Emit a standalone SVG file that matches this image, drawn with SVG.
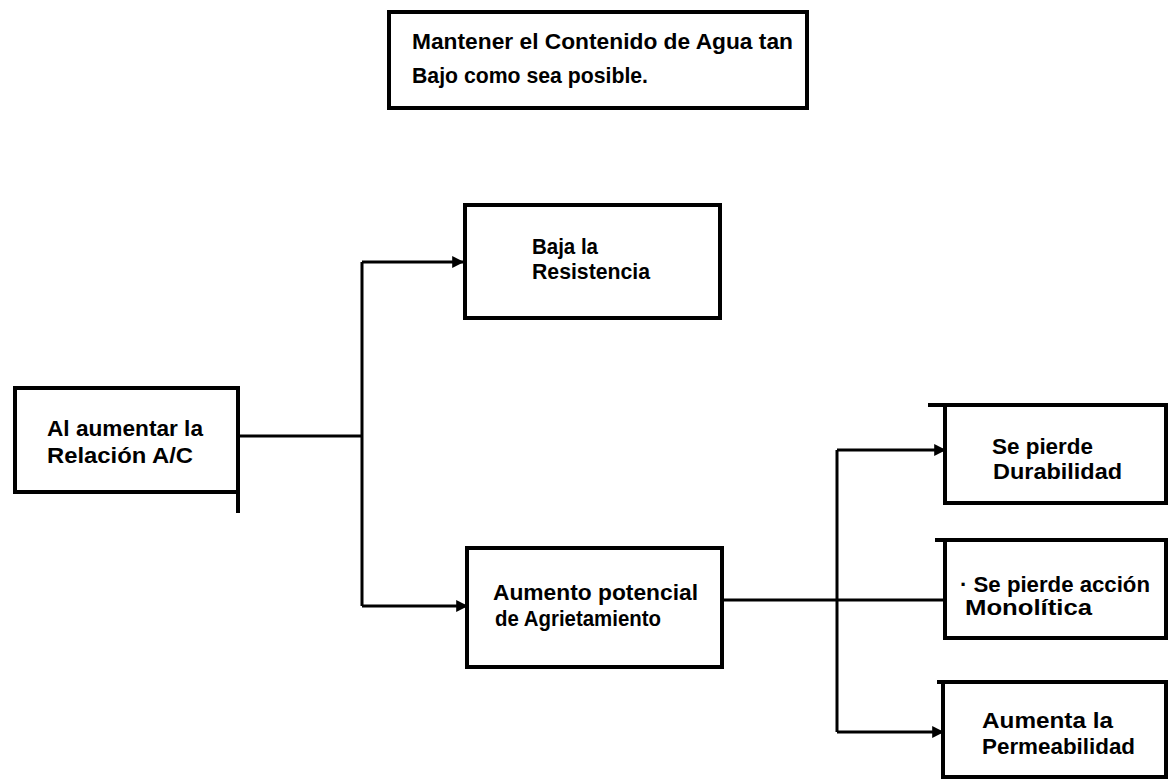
<svg xmlns="http://www.w3.org/2000/svg" width="1169" height="782" viewBox="0 0 1169 782">
  <style>
    .box { fill: none; stroke: #000; stroke-width: 4; }
    .wire { fill: none; stroke: #000; stroke-width: 3; }
    .lbl { font-family: "Liberation Sans", Arial, sans-serif; font-weight: bold; font-size: 22px; fill: #000; }
  </style>
  <defs>
    <marker id="arr" viewBox="0 0 10 10" refX="9" refY="5" markerWidth="4" markerHeight="4" orient="auto" markerUnits="strokeWidth">
      <path d="M0,0 L10,5 L0,10 Z" fill="#000"/>
    </marker>
  </defs>
  <rect width="1169" height="782" fill="#fff"/>

  <!-- connectors -->
  <g id="connectors">
    <path class="wire" d="M238,436 H362"/>
    <path class="wire" d="M362,262 V606"/>
    <path class="wire" d="M362,262 H463" marker-end="url(#arr)"/>
    <path class="wire" d="M362,606 H467" marker-end="url(#arr)"/>
    <path class="wire" d="M722,600 H945"/>
    <path class="wire" d="M837,450 V732"/>
    <path class="wire" d="M837,450 H945" marker-end="url(#arr)"/>
    <path class="wire" d="M837,732 H943" marker-end="url(#arr)"/>
  </g>

  <g id="nota-agua">
    <rect class="box" x="389" y="12" width="418" height="96"/>
    <text class="lbl" x="412" y="49" textLength="381" lengthAdjust="spacingAndGlyphs">Mantener el Contenido de Agua tan</text>
    <text class="lbl" x="412" y="83" textLength="236" lengthAdjust="spacingAndGlyphs">Bajo como sea posible.</text>
  </g>

  <g id="relacion-ac">
    <rect class="box" x="15" y="388" width="223" height="104"/>
    <path class="box" d="M238,492 V513"/>
    <text class="lbl" x="47" y="436" textLength="156" lengthAdjust="spacingAndGlyphs">Al aumentar la</text>
    <text class="lbl" x="47" y="463" textLength="146" lengthAdjust="spacingAndGlyphs">Relación A/C</text>
  </g>

  <g id="baja-resistencia">
    <rect class="box" x="465" y="205" width="255" height="113"/>
    <text class="lbl" x="532" y="254" textLength="66" lengthAdjust="spacingAndGlyphs">Baja la</text>
    <text class="lbl" x="532" y="279" textLength="118" lengthAdjust="spacingAndGlyphs">Resistencia</text>
  </g>

  <g id="agrietamiento">
    <rect class="box" x="467" y="548" width="255" height="119"/>
    <text class="lbl" x="493" y="600" textLength="205" lengthAdjust="spacingAndGlyphs">Aumento potencial</text>
    <text class="lbl" x="495" y="626" textLength="166" lengthAdjust="spacingAndGlyphs">de Agrietamiento</text>
  </g>

  <g id="durabilidad">
    <path class="box" d="M928,405 H1166 V503 H945 V405"/>
    <text class="lbl" x="992" y="454" textLength="101" lengthAdjust="spacingAndGlyphs">Se pierde</text>
    <text class="lbl" x="993" y="479" textLength="129" lengthAdjust="spacingAndGlyphs">Durabilidad</text>
  </g>

  <g id="monolitica">
    <path class="box" d="M935,540 H1166 V638 H945 V540"/>
    <text class="lbl" x="960" y="592" textLength="190" lengthAdjust="spacingAndGlyphs">· Se pierde acción</text>
    <text class="lbl" x="965" y="615" textLength="127" lengthAdjust="spacingAndGlyphs">Monolítica</text>
  </g>

  <g id="permeabilidad">
    <path class="box" d="M937,682 H1166 V777 H943 V682"/>
    <text class="lbl" x="982" y="728" textLength="131" lengthAdjust="spacingAndGlyphs">Aumenta  la</text>
    <text class="lbl" x="982" y="754" textLength="153" lengthAdjust="spacingAndGlyphs">Permeabilidad</text>
  </g>
</svg>
